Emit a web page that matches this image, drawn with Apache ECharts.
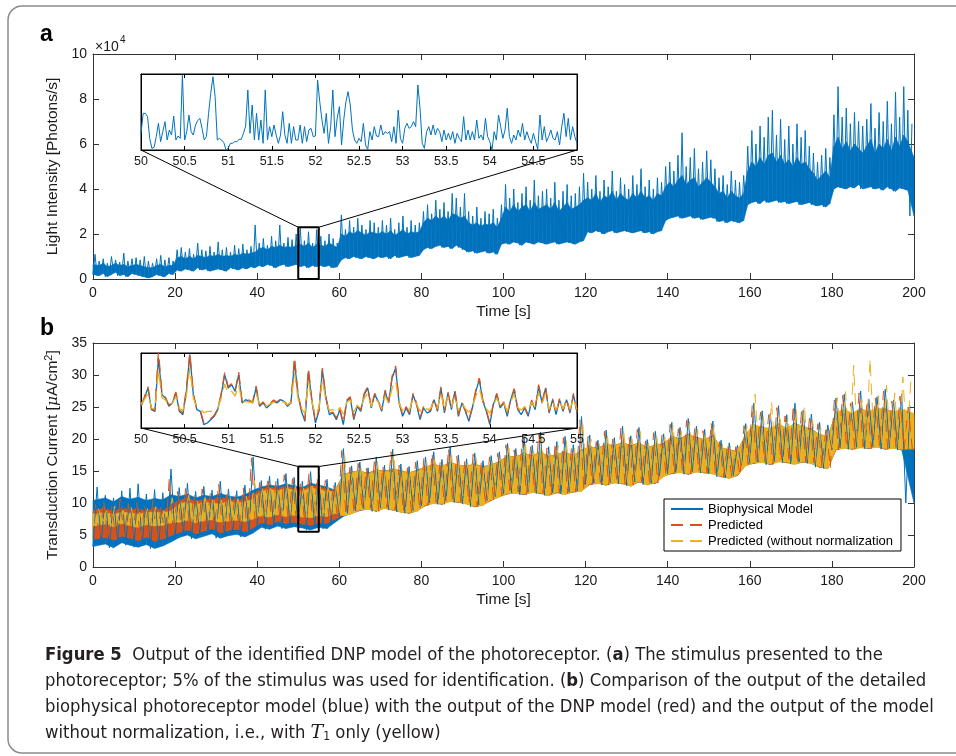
<!DOCTYPE html>
<html>
<head>
<meta charset="utf-8">
<script src="https://cdn.jsdelivr.net/npm/echarts@6/dist/echarts.min.js"></script>
<style>
  html, body { margin: 0; padding: 0; background: #fff; }
  #fig { width: 956px; height: 756px; }
</style>
</head>
<body>
<div id="fig"></div>
<script>
// ---------- panel a : light intensity (x1e4 photons/s), per 1 s bin: low, dense-core top, spike top
const lightLow = [
  0.2,0.15,0.25,0.1,0.2,0.3,0.15,0.2,0.1,0.25,
  0.2,0.15,0.1,0.05,0.1,0.2,0.15,0.1,0.25,0.2,
  0.4,0.35,0.45,0.4,0.35,0.5,0.4,0.45,0.35,0.4,
  0.45,0.4,0.35,0.5,0.45,0.4,0.5,0.45,0.55,0.5,
  0.6,0.55,0.65,0.6,0.5,0.6,0.65,0.55,0.6,0.65,
  0.55,0.6,0.5,0.6,0.55,0.6,0.55,0.6,0.5,0.55,
  0.85,0.95,0.9,1.0,0.95,0.9,1.0,0.95,0.9,1.0,
  0.95,1.0,0.9,1.05,0.95,1.0,1.05,0.95,1.0,1.05,
  1.3,1.4,1.35,1.45,1.5,1.4,1.45,1.35,1.5,1.4,
  1.3,1.2,1.25,1.15,1.2,1.25,1.15,1.2,1.1,1.55,
  1.6,1.55,1.65,1.6,1.5,1.65,1.6,1.55,1.65,1.6,
  1.55,1.6,1.65,1.55,1.6,1.65,1.6,1.55,1.65,1.7,
  2.1,2.05,2.15,2.1,2.0,2.1,2.15,2.05,2.1,2.15,
  2.1,2.05,2.1,2.15,2.05,2.1,2.0,2.1,2.15,2.6,
  2.7,2.75,2.8,2.7,2.75,2.8,2.7,2.75,2.65,2.7,
  2.75,2.7,2.55,2.6,2.5,2.6,2.55,2.5,2.6,3.3,
  3.4,3.45,3.35,3.5,3.4,3.45,3.5,3.4,3.45,3.35,
  3.4,3.45,3.3,3.35,3.4,3.3,3.25,3.3,3.2,3.35,
  4.0,4.1,4.05,4.0,4.1,4.05,4.2,4.0,4.05,4.1,
  4.0,4.05,3.95,4.1,4.0,3.9,4.05,4.0,3.95,2.8
];
const lightCore = [
  0.65,0.6,0.7,0.55,0.6,0.7,0.6,0.65,0.55,0.6,
  0.65,0.6,0.55,0.5,0.5,0.6,0.65,0.55,0.6,0.6,
  0.95,1.0,0.9,1.0,0.9,1.05,1.0,0.95,1.05,1.0,
  1.1,1.0,1.05,1.0,1.1,1.05,1.15,1.1,1.15,1.2,
  1.35,1.4,1.3,1.45,1.4,1.5,1.4,1.45,1.4,1.5,
  1.55,1.45,1.6,1.4,1.55,1.5,1.45,1.6,1.5,1.4,
  2.0,1.9,2.1,2.0,2.15,2.05,1.95,2.1,2.05,2.0,
  2.1,2.0,2.15,1.95,2.05,2.2,2.0,2.1,2.05,2.1,
  2.5,2.7,2.6,2.8,2.65,2.8,2.6,2.9,2.85,2.7,
  2.8,2.5,2.4,2.5,2.35,2.45,2.4,2.5,2.3,2.7,
  3.2,3.0,3.3,3.0,3.2,3.3,3.0,3.4,3.1,3.2,
  3.3,3.1,3.4,3.0,3.2,3.4,3.1,3.2,3.3,3.5,
  3.6,3.5,3.8,3.4,3.7,3.6,3.9,3.5,3.8,3.6,
  3.5,3.8,3.6,3.9,3.6,3.7,3.5,3.8,3.7,4.1,
  4.3,4.1,4.4,4.6,4.2,4.4,4.5,4.1,4.3,4.5,
  4.3,4.1,3.8,3.9,3.6,3.9,3.7,3.6,3.8,4.8,
  5.2,5.0,5.4,5.1,5.5,5.6,5.2,5.5,5.1,5.3,
  5.0,5.4,5.1,5.2,4.9,4.7,4.4,4.6,4.8,4.5,
  5.9,6.3,5.8,6.1,5.7,6.0,5.8,5.6,5.9,6.2,
  5.6,6.0,5.8,6.2,5.7,6.3,5.9,6.4,6.1,5.4
];
const lightHigh = [
  1.1,0.8,0.9,0.7,1.0,0.85,0.75,1.15,0.8,0.9,
  0.95,0.85,1.0,0.8,0.7,0.9,1.05,0.85,0.95,0.8,
  1.3,1.4,1.2,1.35,1.1,1.6,1.3,1.25,1.45,1.2,
  1.65,1.3,1.4,1.2,1.5,1.35,1.55,1.3,1.45,2.4,
  1.6,1.8,1.5,1.9,1.7,2.4,1.6,1.85,1.75,2.0,
  2.3,1.7,2.1,1.6,2.2,1.9,1.7,2.0,1.8,1.6,
  2.85,2.2,2.6,2.3,2.7,2.4,2.2,2.6,2.5,2.3,
  2.6,2.4,2.7,2.2,2.5,2.8,2.3,2.6,2.4,2.5,
  3.0,3.3,2.9,3.5,3.1,3.4,3.0,3.8,3.6,3.2,
  3.8,3.0,2.8,3.2,2.7,3.0,2.9,3.1,2.7,3.3,
  4.2,3.6,4.0,3.4,3.8,4.1,3.5,4.4,3.7,3.9,
  4.0,3.6,4.3,3.5,3.9,4.2,3.7,3.8,4.1,4.7,
  4.3,4.0,4.6,3.9,4.4,4.1,4.8,3.9,4.5,4.2,
  4.0,4.6,4.2,4.9,4.1,4.4,4.0,4.5,4.3,5.0,
  5.2,4.8,5.5,6.5,5.0,5.4,5.8,4.9,5.2,5.7,
  5.3,4.9,4.5,4.6,4.2,4.8,4.4,4.3,4.6,5.9,
  6.6,6.0,6.8,6.3,7.2,7.5,6.4,7.1,6.2,6.8,
  6.0,6.9,6.3,6.6,5.9,5.6,5.2,5.5,5.8,5.4,
  7.3,8.55,7.2,7.6,6.9,7.4,7.0,6.8,7.1,7.8,
  6.7,7.4,7.0,7.9,6.9,8.3,7.2,8.55,7.5,6.9
];
// inset a : 50 - 55 s, one value every 0.025 s
const insetLight = [
  0.9,1.5,1.5,1.4,0.75,0.45,0.48,0.8,1.2,0.65,
  0.95,1.25,0.7,1.0,0.85,1.42,0.7,0.82,0.75,2.65,
  0.7,0.95,1.45,0.95,0.85,1.15,1.28,1.35,1.05,0.7,
  0.8,1.5,2.1,2.6,2.0,0.7,0.75,0.7,0.62,0.4,
  0.45,0.6,0.6,0.65,0.65,0.72,0.72,0.9,1.12,2.2,
  0.9,1.75,0.7,1.5,0.7,1.3,0.6,2.2,0.7,1.1,
  0.8,1.15,0.85,0.6,0.85,1.55,0.85,0.6,1.2,0.6,
  1.1,0.7,0.7,1.15,0.6,1.1,0.65,1.0,1.05,0.8,
  0.82,2.5,1.85,1.3,0.9,1.5,0.6,1.1,2.2,0.8,
  1.35,1.7,0.55,1.3,1.85,2.15,1.75,1.0,0.7,0.6,
  0.75,0.65,1.2,0.55,0.42,0.95,0.7,1.1,0.82,0.8,
  1.15,0.85,0.95,0.9,0.95,0.65,1.1,0.6,1.6,0.75,
  0.6,1.05,1.2,1.05,1.1,1.25,1.1,2.35,1.65,0.6,
  0.45,0.95,1.1,0.85,1.15,0.85,1.05,0.95,0.65,1.0,
  0.7,0.9,0.7,0.95,0.6,0.9,0.75,0.65,1.4,0.7,
  1.0,0.7,0.95,0.7,1.3,0.75,0.85,0.7,1.35,0.8,
  0.65,0.4,0.95,0.7,1.45,1.1,0.75,1.0,1.65,0.8,
  0.6,0.85,0.7,1.0,0.8,1.2,0.7,0.95,0.75,0.6,
  0.9,0.65,0.42,1.45,0.7,1.1,0.65,0.8,1.0,0.75,
  0.7,0.95,0.55,1.1,1.5,0.8,1.35,0.7,1.1,0.8,
  0.6
];

// ---------- panel b : transduction current (uA/cm2), per 2 s bin: low, dense-core top, spike top
const bioLow = [
  3.2,3.6,3.0,3.8,3.4,3.1,3.5,2.9,3.3,3.9,
  4.6,5.0,4.4,4.8,5.2,4.5,4.9,5.1,4.7,5.3,
  6.2,5.9,6.4,6.0,6.3,6.1,5.8,6.2,6.0,7.0,
  7.9,8.4,8.8,9.1,8.7,9.2,8.9,8.6,8.4,8.8,
  9.6,10.0,9.8,10.3,10.1,9.9,9.4,9.7,10.4,11.0,
  11.4,11.6,11.3,11.7,11.5,11.2,11.6,11.4,11.7,11.9,
  12.9,13.1,12.8,13.2,13.0,12.7,13.3,12.9,13.1,14.2,
  14.6,14.8,14.5,14.9,14.7,14.6,14.1,13.9,14.3,15.9,
  16.2,16.4,16.0,16.5,16.3,16.1,16.4,16.2,15.6,15.4,
  18.3,18.6,18.4,18.7,18.5,18.8,18.4,18.6,18.3,10.0
];
const bioCore = [
  10.4,10.8,10.2,11.0,10.6,10.9,10.4,10.7,10.5,11.3,
  11.0,11.4,10.8,11.2,11.0,11.5,11.1,10.9,11.3,12.0,
  12.5,12.8,12.6,13.0,12.7,12.4,13.1,12.8,12.5,12.0,
  14.5,14.8,15.0,14.6,15.2,14.9,15.3,15.0,14.7,15.1,
  15.6,16.0,15.7,16.3,15.9,15.7,16.1,15.6,16.0,16.4,
  17.4,17.1,17.8,17.3,18.0,17.2,17.6,17.9,17.4,18.2,
  18.8,18.5,19.2,18.9,19.5,18.9,19.4,18.6,19.1,19.2,
  20.4,20.0,20.7,20.2,19.9,20.5,18.6,18.3,18.0,20.7,
  22.1,21.8,21.5,22.3,21.6,22.4,21.9,21.5,20.7,20.3,
  24.0,24.4,23.9,24.6,24.1,24.3,24.8,24.0,24.5,23.0
];
const bioHigh = [
  12.5,11.2,10.8,11.9,12.3,13.0,11.4,12.1,11.6,15.3,
  12.4,13.1,11.8,12.6,12.0,13.4,12.2,11.9,12.8,17.2,
  13.5,14.2,13.8,14.6,14.0,13.4,14.9,14.3,13.7,13.2,
  18.5,15.8,16.4,15.5,17.2,15.9,18.4,16.1,15.7,16.6,
  17.2,18.0,16.8,18.8,17.5,16.9,17.8,16.6,17.4,18.0,
  19.3,18.5,20.2,19.0,21.1,18.8,19.6,20.4,19.1,23.5,
  20.6,19.8,21.4,20.2,22.0,20.5,21.8,19.9,21.2,20.8,
  22.6,21.8,23.2,22.0,21.5,22.8,19.8,19.4,19.0,22.4,
  25.6,24.4,24.0,25.2,23.8,25.6,24.5,23.9,22.6,22.2,
  26.4,27.0,25.8,27.5,26.2,26.6,27.8,26.1,27.0,25.2
];
const predLow = [
  4.3,4.6,4.2,4.8,4.5,4.1,4.7,4.0,4.4,4.9,
  5.4,5.8,5.2,5.6,6.0,5.3,5.7,5.9,5.5,6.1,
  6.9,6.6,7.1,6.8,7.0,6.7,6.5,6.9,6.8,7.5,
  8.1,8.4,8.9,9.2,8.7,9.3,8.9,8.7,8.4,8.9,
  9.6,10.1,9.8,10.4,10.1,10.0,9.4,9.8,10.4,11.1,
  11.4,11.7,11.3,11.8,11.5,11.3,11.6,11.5,11.7,12.0,
  12.9,13.2,12.8,13.3,13.0,12.8,13.3,13.0,13.1,14.3,
  14.6,14.9,14.5,15.0,14.7,14.7,14.1,14.0,14.3,16.0,
  16.2,16.5,16.0,16.6,16.3,16.2,16.4,16.3,15.6,15.5,
  18.3,18.7,18.4,18.8,18.5,18.9,18.4,18.7,18.3,18.4
];
const predCore = [
  8.8,9.2,8.6,9.3,8.9,9.1,8.7,9.2,8.8,9.6,
  10.4,10.8,10.2,10.6,10.5,10.9,10.6,10.3,10.7,11.4,
  12.2,12.5,12.3,12.7,12.4,12.1,12.8,12.5,12.2,11.8,
  14.4,14.8,14.9,14.7,15.1,15.0,15.2,15.1,14.6,15.2,
  15.5,16.1,15.6,16.4,15.8,15.8,16.0,15.7,15.9,16.5,
  17.3,17.2,17.7,17.4,17.9,17.3,17.5,18.0,17.3,18.3,
  18.7,18.6,19.1,19.0,19.4,19.0,19.3,18.7,19.0,19.3,
  20.3,20.1,20.6,20.3,19.8,20.6,18.5,18.4,17.9,20.6,
  22.0,21.9,21.4,22.4,21.5,22.5,21.8,21.6,20.6,20.4,
  23.9,24.5,23.8,24.7,24.0,24.4,24.7,24.1,24.4,23.4
];
const predHigh = [
  9.8,10.4,9.5,10.6,9.9,10.2,9.7,10.5,9.6,14.0,
  11.8,12.6,11.4,12.2,11.7,13.0,11.9,11.5,12.4,17.0,
  13.2,14.0,13.6,14.4,13.8,13.3,14.6,14.0,13.5,13.0,
  18.2,15.6,16.2,15.4,17.0,15.7,18.0,15.9,15.5,16.4,
  17.0,17.8,16.6,18.5,17.3,16.7,17.6,16.4,17.2,17.8,
  19.1,18.3,20.0,18.8,20.8,18.6,19.4,20.2,18.9,23.0,
  20.4,19.6,21.2,20.0,21.7,20.3,21.5,19.7,21.0,20.6,
  22.3,21.6,22.9,21.8,21.3,22.5,19.6,19.2,18.8,22.1,
  25.3,24.2,23.8,24.9,23.6,25.3,24.3,23.7,22.4,22.0,
  26.1,26.8,25.6,27.2,26.0,26.4,27.5,25.9,26.7,25.0
];
const noNormLow = [
  6.4,6.7,6.3,6.8,6.5,6.2,6.6,6.4,6.5,6.9,
  7.0,7.3,6.9,7.2,7.4,7.0,7.2,7.3,7.1,7.5,
  8.0,7.8,8.2,7.9,8.1,7.8,7.7,8.0,7.9,8.4,
  8.0,8.3,8.9,9.0,8.8,9.1,9.0,8.5,8.5,8.7,
  9.7,9.9,9.9,10.2,10.2,9.8,9.5,9.6,10.5,10.9,
  11.5,11.5,11.4,11.6,11.6,11.1,11.7,11.3,11.8,11.8,
  13.0,13.0,12.9,13.1,13.1,12.6,13.4,12.8,13.2,14.1,
  14.7,14.7,14.6,14.8,14.8,14.5,14.2,13.8,14.4,15.8,
  16.3,16.3,16.1,16.4,16.4,16.0,16.5,16.1,15.7,15.3,
  18.4,18.5,18.5,18.6,18.6,18.7,18.5,18.5,18.4,18.5
];
const noNormCore = [
  8.3,8.5,8.2,8.6,8.4,8.3,8.5,8.6,8.4,8.8,
  9.8,10.2,9.7,10.1,10.0,9.8,10.3,10.0,10.2,10.6,
  11.8,12.1,11.9,12.3,12.0,11.8,12.4,12.1,11.9,11.7,
  14.6,14.7,15.1,14.5,15.3,14.8,15.4,14.9,14.8,15.0,
  15.7,15.9,15.8,16.2,16.0,15.6,16.2,15.5,16.1,16.3,
  17.5,17.0,17.9,17.2,18.1,17.1,17.7,17.8,17.5,18.1,
  18.9,18.4,19.3,18.8,19.6,18.8,19.5,18.5,19.2,19.1,
  20.5,19.9,20.8,20.1,20.0,20.4,18.7,18.2,18.1,20.8,
  22.3,21.8,21.7,22.2,21.8,22.3,22.1,21.4,20.8,20.3,
  24.2,24.6,24.1,24.8,24.3,24.9,24.6,24.2,24.7,24.0
];
const noNormHigh = [
  9.2,8.8,9.5,8.9,9.3,8.7,9.1,9.4,8.8,10.8,
  10.6,11.2,10.4,10.9,11.0,10.5,11.3,10.7,11.1,13.5,
  12.2,12.8,12.4,13.0,12.6,12.3,13.2,12.7,12.5,12.6,
  17.5,14.8,15.4,14.6,16.5,15.0,17.8,15.2,14.8,15.6,
  16.4,17.2,16.0,17.9,16.8,16.2,17.1,15.9,16.7,17.4,
  18.6,18.0,19.6,18.5,20.5,18.3,19.0,19.8,18.6,22.5,
  20.0,19.3,20.9,19.8,21.4,20.0,21.2,19.4,20.7,20.3,
  22.1,21.3,22.8,21.5,21.0,22.2,19.3,18.9,18.6,22.0,
  27.0,23.5,25.8,24.0,23.4,24.6,25.2,23.0,21.6,21.2,
  26.5,27.4,31.5,26.2,32.5,26.8,28.4,27.2,29.7,30.0
];
// inset b : 50 - 55 s, one value every 0.04 s
const insetBio = [
  8.25,9.5,11.0,7.75,7.5,15.5,10.0,9.5,8.25,8.75,
  10.25,7.5,7.0,10.5,16.0,10.0,7.75,7.5,5.5,5.75,
  6.25,6.75,7.75,10.0,13.0,11.0,11.5,10.5,13.0,8.75,
  9.25,9.0,8.75,11.0,8.25,8.75,8.0,8.5,9.0,8.75,
  9.25,9.0,8.25,8.75,15.0,10.0,7.5,6.0,13.5,9.0,
  5.75,7.5,13.75,9.5,7.0,7.25,6.25,7.75,5.5,9.0,
  9.5,6.25,8.25,7.5,10.0,11.0,8.0,10.0,9.0,7.5,
  10.5,8.75,12.5,14.0,8.75,6.75,8.0,7.0,10.0,8.5,
  6.25,8.0,7.25,7.5,9.25,7.5,11.0,7.25,10.25,7.75,
  10.5,6.75,8.75,7.5,6.0,8.0,10.5,12.25,9.0,7.5,
  5.5,8.5,10.0,8.0,8.75,6.75,9.25,10.75,7.75,7.0,
  8.0,6.75,9.0,7.75,11.25,8.75,11.0,7.25,9.25,7.0,
  9.25,7.5,9.25,7.25,10.0,7.25
];
const insetPred = [
  8.4,9.7,11.2,7.9,7.6,16.5,10.3,9.6,8.4,8.9,
  10.4,7.7,7.2,10.8,16.3,10.2,7.9,7.7,5.8,6.0,
  6.4,6.9,7.9,10.2,13.3,11.2,11.7,10.7,13.4,8.9,
  9.4,9.2,8.9,11.3,8.4,8.9,8.2,8.7,9.2,8.9,
  9.4,9.2,8.4,8.9,15.6,10.3,7.7,6.2,13.9,9.2,
  6.0,7.7,14.0,9.7,7.2,7.4,6.5,7.9,5.8,9.2,
  9.7,6.5,8.4,7.7,10.2,11.2,8.2,10.2,9.2,7.7,
  10.7,8.9,12.8,14.3,8.9,7.0,8.2,7.2,10.2,8.7,
  6.5,8.2,7.4,7.7,9.4,7.7,11.2,7.4,10.4,7.9,
  10.7,7.0,8.9,7.7,6.2,8.2,10.7,12.5,9.2,7.7,
  5.8,8.7,10.2,8.2,8.9,7.0,9.4,10.9,7.9,7.2,
  8.2,7.0,9.2,7.9,11.5,8.9,11.2,7.4,9.4,7.2,
  9.4,7.7,9.4,7.4,10.2,7.4
];
const insetNoNorm = [
  8.6,9.3,10.2,8.0,7.8,13.8,9.5,9.2,8.4,8.7,
  9.7,7.9,7.6,9.8,14.0,9.5,8.1,7.9,7.3,7.5,
  7.5,7.6,8.0,9.5,11.6,10.2,10.5,9.8,11.5,8.8,
  9.0,8.9,8.8,10.2,8.5,8.8,8.3,8.6,8.9,8.8,
  9.0,8.9,8.5,8.8,13.2,9.5,7.9,7.2,12.0,8.9,
  7.0,8.0,12.2,9.2,7.6,7.8,7.2,8.1,7.1,8.9,
  9.2,7.4,8.4,7.9,9.5,10.2,8.2,9.5,8.9,7.9,
  9.8,8.7,11.0,12.1,8.7,7.6,8.2,7.7,9.5,8.6,
  7.5,8.2,7.8,7.9,9.0,7.9,10.2,7.8,9.7,8.1,
  9.8,7.6,8.7,7.9,7.4,8.2,9.8,11.0,8.9,7.9,
  7.2,8.5,9.5,8.2,8.7,7.6,9.0,10.0,8.1,7.7,
  8.2,7.6,8.9,8.1,10.3,8.7,10.2,7.8,9.0,7.7,
  9.0,7.9,9.0,7.8,9.5,7.8
];

// zoom window and the value ranges used for the boxes / insets
const zoomSpan = [50, 55];
const zoomRangeA = [0, 2.3];
const zoomRangeB = [5.5, 15.7];
const insetRangeA = [0.4, 2.68];
const insetRangeB = [5, 16.25];
const insetStepA = 0.025;
const insetStepB = 0.04;

const names = ['Biophysical Model', 'Predicted', 'Predicted (without normalization'];
const captionLines = [
  '{b|Figure 5}  Output of the identified DNP model of the photoreceptor. ({b|a}) The stimulus presented to the',
  'photoreceptor; 5% of the stimulus was used for identification. ({b|b}) Comparison of the output of the detailed',
  'biophysical photoreceptor model (blue) with the output of the DNP model (red) and the output of the model',
  'without normalization, i.e., with {cal|T}{sub|1} only (yellow)'
];

// ---------- helpers
const FONT = '"Liberation Sans", Arial, Helvetica, sans-serif';
const CAPFONT = '"Liberation Sans Narrow", "DejaVu Sans Condensed", "Arial Narrow", sans-serif';
const CAPSIZE = 18.3;
const AX = '#333';
const BLUE = '#0072BD', RED = '#D95319', YELLOW = '#EDB120';

// one low and one high point per bin -> dense trace
function zigzag(lows, highs, binWidth, offset, highFirst) {
  const pts = [];
  lows.forEach(function (lo, i) {
    const t = i * binWidth + offset;
    if (highFirst) {
      pts.push([t, highs[i]], [t + binWidth / 2, lo]);
    } else {
      pts.push([t, lo], [t + binWidth / 2, highs[i]]);
    }
  });
  return pts;
}
function sampled(values, start, step) {
  return values.map(function (v, i) { return [start + i * step, v]; });
}
function boxPath(span, range) {
  return [[span[0], range[0]], [span[0], range[1]], [span[1], range[1]], [span[1], range[0]], [span[0], range[0]]];
}

function xAxisPair(grid, min, max, interval, opts) {
  const common = {
    type: 'value', gridIndex: grid, min: min, max: max, interval: interval,
    splitLine: { show: false },
    axisLine: { show: true, onZero: false, lineStyle: { color: opts.color, width: 1 } },
    axisTick: { show: true, inside: true, length: opts.tick, lineStyle: { color: opts.color } },
    z: opts.z
  };
  const bottom = Object.assign({}, common, {
    position: 'bottom',
    axisLabel: { show: true, color: '#1a1a1a', fontSize: opts.font, fontFamily: FONT, margin: opts.margin },
    name: opts.name || '', nameLocation: 'middle', nameGap: 25,
    nameTextStyle: { color: '#1a1a1a', fontSize: 15.5, fontFamily: FONT }
  });
  const top = Object.assign({}, common, { position: 'top', axisLabel: { show: false } });
  return [bottom, top];
}
function yAxisPair(grid, min, max, interval, opts) {
  const common = {
    type: 'value', gridIndex: grid, min: min, max: max, interval: interval,
    splitLine: { show: false },
    axisLine: { show: true, onZero: false, lineStyle: { color: opts.color, width: 1 } },
    axisTick: { show: opts.tick > 0, inside: true, length: opts.tick, lineStyle: { color: opts.color } },
    z: opts.z
  };
  const left = Object.assign({}, common, {
    position: 'left',
    axisLabel: { show: opts.labels, color: '#1a1a1a', fontSize: 14, fontFamily: FONT, margin: 6 },
    name: opts.name || '', nameLocation: 'middle', nameGap: 27,
    nameTextStyle: {
      color: '#1a1a1a', fontSize: 15.5, fontFamily: FONT,
      rich: {
        i: { fontStyle: 'italic', fontSize: 15.5, fontFamily: '"DejaVu Serif", serif', color: '#1a1a1a' },
        sup: { fontSize: 11, fontFamily: FONT, color: '#1a1a1a', verticalAlign: 'top', padding: [0, 0, 8, 0] }
      }
    }
  });
  const right = Object.assign({}, common, { position: 'right', axisLabel: { show: false } });
  return [left, right];
}

const mainX = { color: AX, tick: 6, font: 14, margin: 7, z: 0, name: 'Time [s]' };
const insetX = { color: '#000', tick: 4, font: 12.5, margin: 5, z: 6 };

const xAxes = []
  .concat(xAxisPair(0, 0, 200, 20, mainX))
  .concat(xAxisPair(1, zoomSpan[0], zoomSpan[1], 0.5, insetX))
  .concat(xAxisPair(2, 0, 200, 20, mainX))
  .concat(xAxisPair(3, zoomSpan[0], zoomSpan[1], 0.5, insetX));
const yAxes = []
  .concat(yAxisPair(0, 0, 10, 2, { color: AX, tick: 6, labels: true, z: 0, name: 'Light Intensity [Photons/s]' }))
  .concat(yAxisPair(1, insetRangeA[0], insetRangeA[1], null, { color: '#000', tick: 0, labels: false, z: 6 }))
  .concat(yAxisPair(2, 0, 35, 5, { color: AX, tick: 6, labels: true, z: 0, name: 'Transduction Current [{i|μ}A/cm{sup|2}]' }))
  .concat(yAxisPair(3, insetRangeB[0], insetRangeB[1], null, { color: '#000', tick: 0, labels: false, z: 6 }));

function lineSeries(name, data, xi, color, width, z, dashed) {
  return {
    name: name, type: 'line', data: data, xAxisIndex: xi, yAxisIndex: xi,
    showSymbol: false, symbol: 'none', animation: false, z: z,
    lineStyle: { color: color, width: width, type: dashed ? [12, 7] : 'solid' },
    itemStyle: { color: color }
  };
}
// dense core of the noisy trace: a band between the bin lows and the core tops,
// one quad per pair of neighbouring bins (bin centres, first/last clamped to the axis ends)
function coreSeries(name, lows, cores, binWidth, xi, color) {
  const n = lows.length;
  const centre = function (i) {
    if (i === 0) return 0;
    if (i === n - 1) return n * binWidth;
    return i * binWidth + binWidth / 2;
  };
  const data = [];
  for (let i = 0; i + 1 < n; i++) {
    data.push([centre(i), lows[i], cores[i], centre(i + 1), lows[i + 1], cores[i + 1]]);
  }
  return {
    name: name, type: 'custom', xAxisIndex: xi, yAxisIndex: xi, z: 2, silent: true, animation: false,
    data: data,
    encode: { x: [0, 3], y: [1, 2, 4, 5] },
    renderItem: function (params, api) {
      const pts = [
        api.coord([api.value(0), api.value(1)]),
        api.coord([api.value(0), api.value(2)]),
        api.coord([api.value(3), api.value(5)]),
        api.coord([api.value(3), api.value(4)])
      ];
      return {
        type: 'polygon',
        shape: { points: pts },
        style: { fill: color, stroke: color, lineWidth: 0.6 }
      };
    }
  };
}

const option = {
  backgroundColor: '#fff',
  animation: false,
  grid: [
    { left: 93, top: 54, width: 821, height: 225, show: false },
    { left: 141, top: 74, width: 436, height: 76, show: true, backgroundColor: '#fff', borderColor: '#000', borderWidth: 1, z: 5 },
    { left: 93, top: 343, width: 821, height: 224, show: false },
    { left: 141, top: 353, width: 436, height: 75, show: true, backgroundColor: '#fff', borderColor: '#000', borderWidth: 1, z: 5 }
  ],
  xAxis: xAxes,
  yAxis: yAxes,
  legend: {
    data: names,
    orient: 'vertical',
    left: 664, top: 499,
    padding: [3, 8, 3, 6],
    itemWidth: 32, itemHeight: 14, itemGap: 2,
    itemStyle: { opacity: 0 },
    borderColor: '#000', borderWidth: 1, backgroundColor: '#fff',
    textStyle: { color: '#000', fontSize: 13, fontFamily: FONT, lineHeight: 14 },
    z: 8
  },
  series: [
    coreSeries('lightCore', lightLow, lightCore, 1, 0, BLUE),
    lineSeries('light', zigzag(lightLow, lightHigh, 1, 0, false), 0, BLUE, 1, 2, false),
    lineSeries('boxA', boxPath(zoomSpan, zoomRangeA), 0, '#000', 2, 3, false),
    lineSeries('insetLight', sampled(insetLight, zoomSpan[0], insetStepA), 2, BLUE, 1, 7, false),
    coreSeries('bioCore', bioLow, bioCore, 2, 4, BLUE),
    lineSeries(names[0], zigzag(bioLow, bioHigh, 2, 0, false), 4, BLUE, 1, 2, false),
    coreSeries('predCore', predLow, predCore, 2, 4, RED),
    lineSeries(names[1], zigzag(predLow, predHigh, 2, 0.6, true), 4, RED, 1, 2, true),
    coreSeries('noNormCore', noNormLow, noNormCore, 2, 4, YELLOW),
    lineSeries(names[2], zigzag(noNormLow, noNormHigh, 2, 0.3, false), 4, YELLOW, 1, 2, true),
    lineSeries('boxB', boxPath(zoomSpan, zoomRangeB), 4, '#000', 2, 3, false),
    lineSeries(names[0], sampled(insetBio, zoomSpan[0], insetStepB), 6, BLUE, 1.3, 7, false),
    lineSeries(names[1], sampled(insetPred, zoomSpan[0], insetStepB), 6, RED, 1.3, 7, true),
    lineSeries(names[2], sampled(insetNoNorm, zoomSpan[0], insetStepB), 6, YELLOW, 1.3, 7, true)
  ]
};

const chart = echarts.init(document.getElementById('fig'), null, { renderer: 'canvas' });
chart.setOption(option);

// connector lines from the zoom boxes to the inset corners (pixels from the library's scales)
function connectors(boxSeries, insetSeries, range, insetRange, tag) {
  const out = [];
  [0, 1].forEach(function (k) {
    const p0 = chart.convertToPixel({ seriesIndex: boxSeries }, [zoomSpan[k], range[1]]);
    const p1 = chart.convertToPixel({ seriesIndex: insetSeries }, [zoomSpan[k], insetRange[0]]);
    out.push({
      type: 'line', id: tag + k, silent: true, z: 4,
      shape: { x1: p0[0], y1: p0[1], x2: p1[0], y2: p1[1] },
      style: { stroke: '#000', lineWidth: 1 }
    });
  });
  return out;
}

const capRich = {
  b: { fontWeight: 'bold', fontSize: CAPSIZE, fontFamily: CAPFONT, fill: '#231f20' },
  cal: { fontStyle: 'italic', fontSize: 19, fontFamily: '"DejaVu Serif", serif', fill: '#231f20' },
  sub: { fontSize: 12, fontFamily: CAPFONT, fill: '#231f20', verticalAlign: 'bottom', padding: [6, 0, 0, 0] }
};
const graphics = [
  { type: 'rect', id: 'frame', silent: true, z: 0,
    shape: { x: 8, y: 6, width: 1000, height: 747, r: 14 },
    style: { fill: 'none', stroke: '#8c8c8c', lineWidth: 1.5 } },
  { type: 'text', id: 'la', x: 40, y: 35, silent: true,
    style: { text: 'a', fontSize: 23, fontWeight: 'bold', fontFamily: FONT, fill: '#000', verticalAlign: 'middle' } },
  { type: 'text', id: 'lb', x: 40, y: 329, silent: true,
    style: { text: 'b', fontSize: 23, fontWeight: 'bold', fontFamily: FONT, fill: '#000', verticalAlign: 'middle' } },
  { type: 'text', id: 'exp', x: 95, y: 47, silent: true,
    style: { text: '×10', fontSize: 14, fontFamily: FONT, fill: '#1a1a1a', verticalAlign: 'middle' } },
  { type: 'text', id: 'exp4', x: 120, y: 40, silent: true,
    style: { text: '4', fontSize: 10, fontFamily: FONT, fill: '#1a1a1a', verticalAlign: 'middle' } }
].concat(captionLines.map(function (line, i) {
  return {
    type: 'text', id: 'cap' + i, x: 45, y: 655 + i * 26, silent: true,
    style: { text: line, fontSize: CAPSIZE, fontFamily: CAPFONT, fill: '#231f20', verticalAlign: 'middle', rich: capRich }
  };
}))
  .concat(connectors(2, 3, zoomRangeA, insetRangeA, 'ca'))
  .concat(connectors(10, 11, zoomRangeB, insetRangeB, 'cb'));

chart.setOption({ graphic: { elements: graphics } });
</script>
</body>
</html>
